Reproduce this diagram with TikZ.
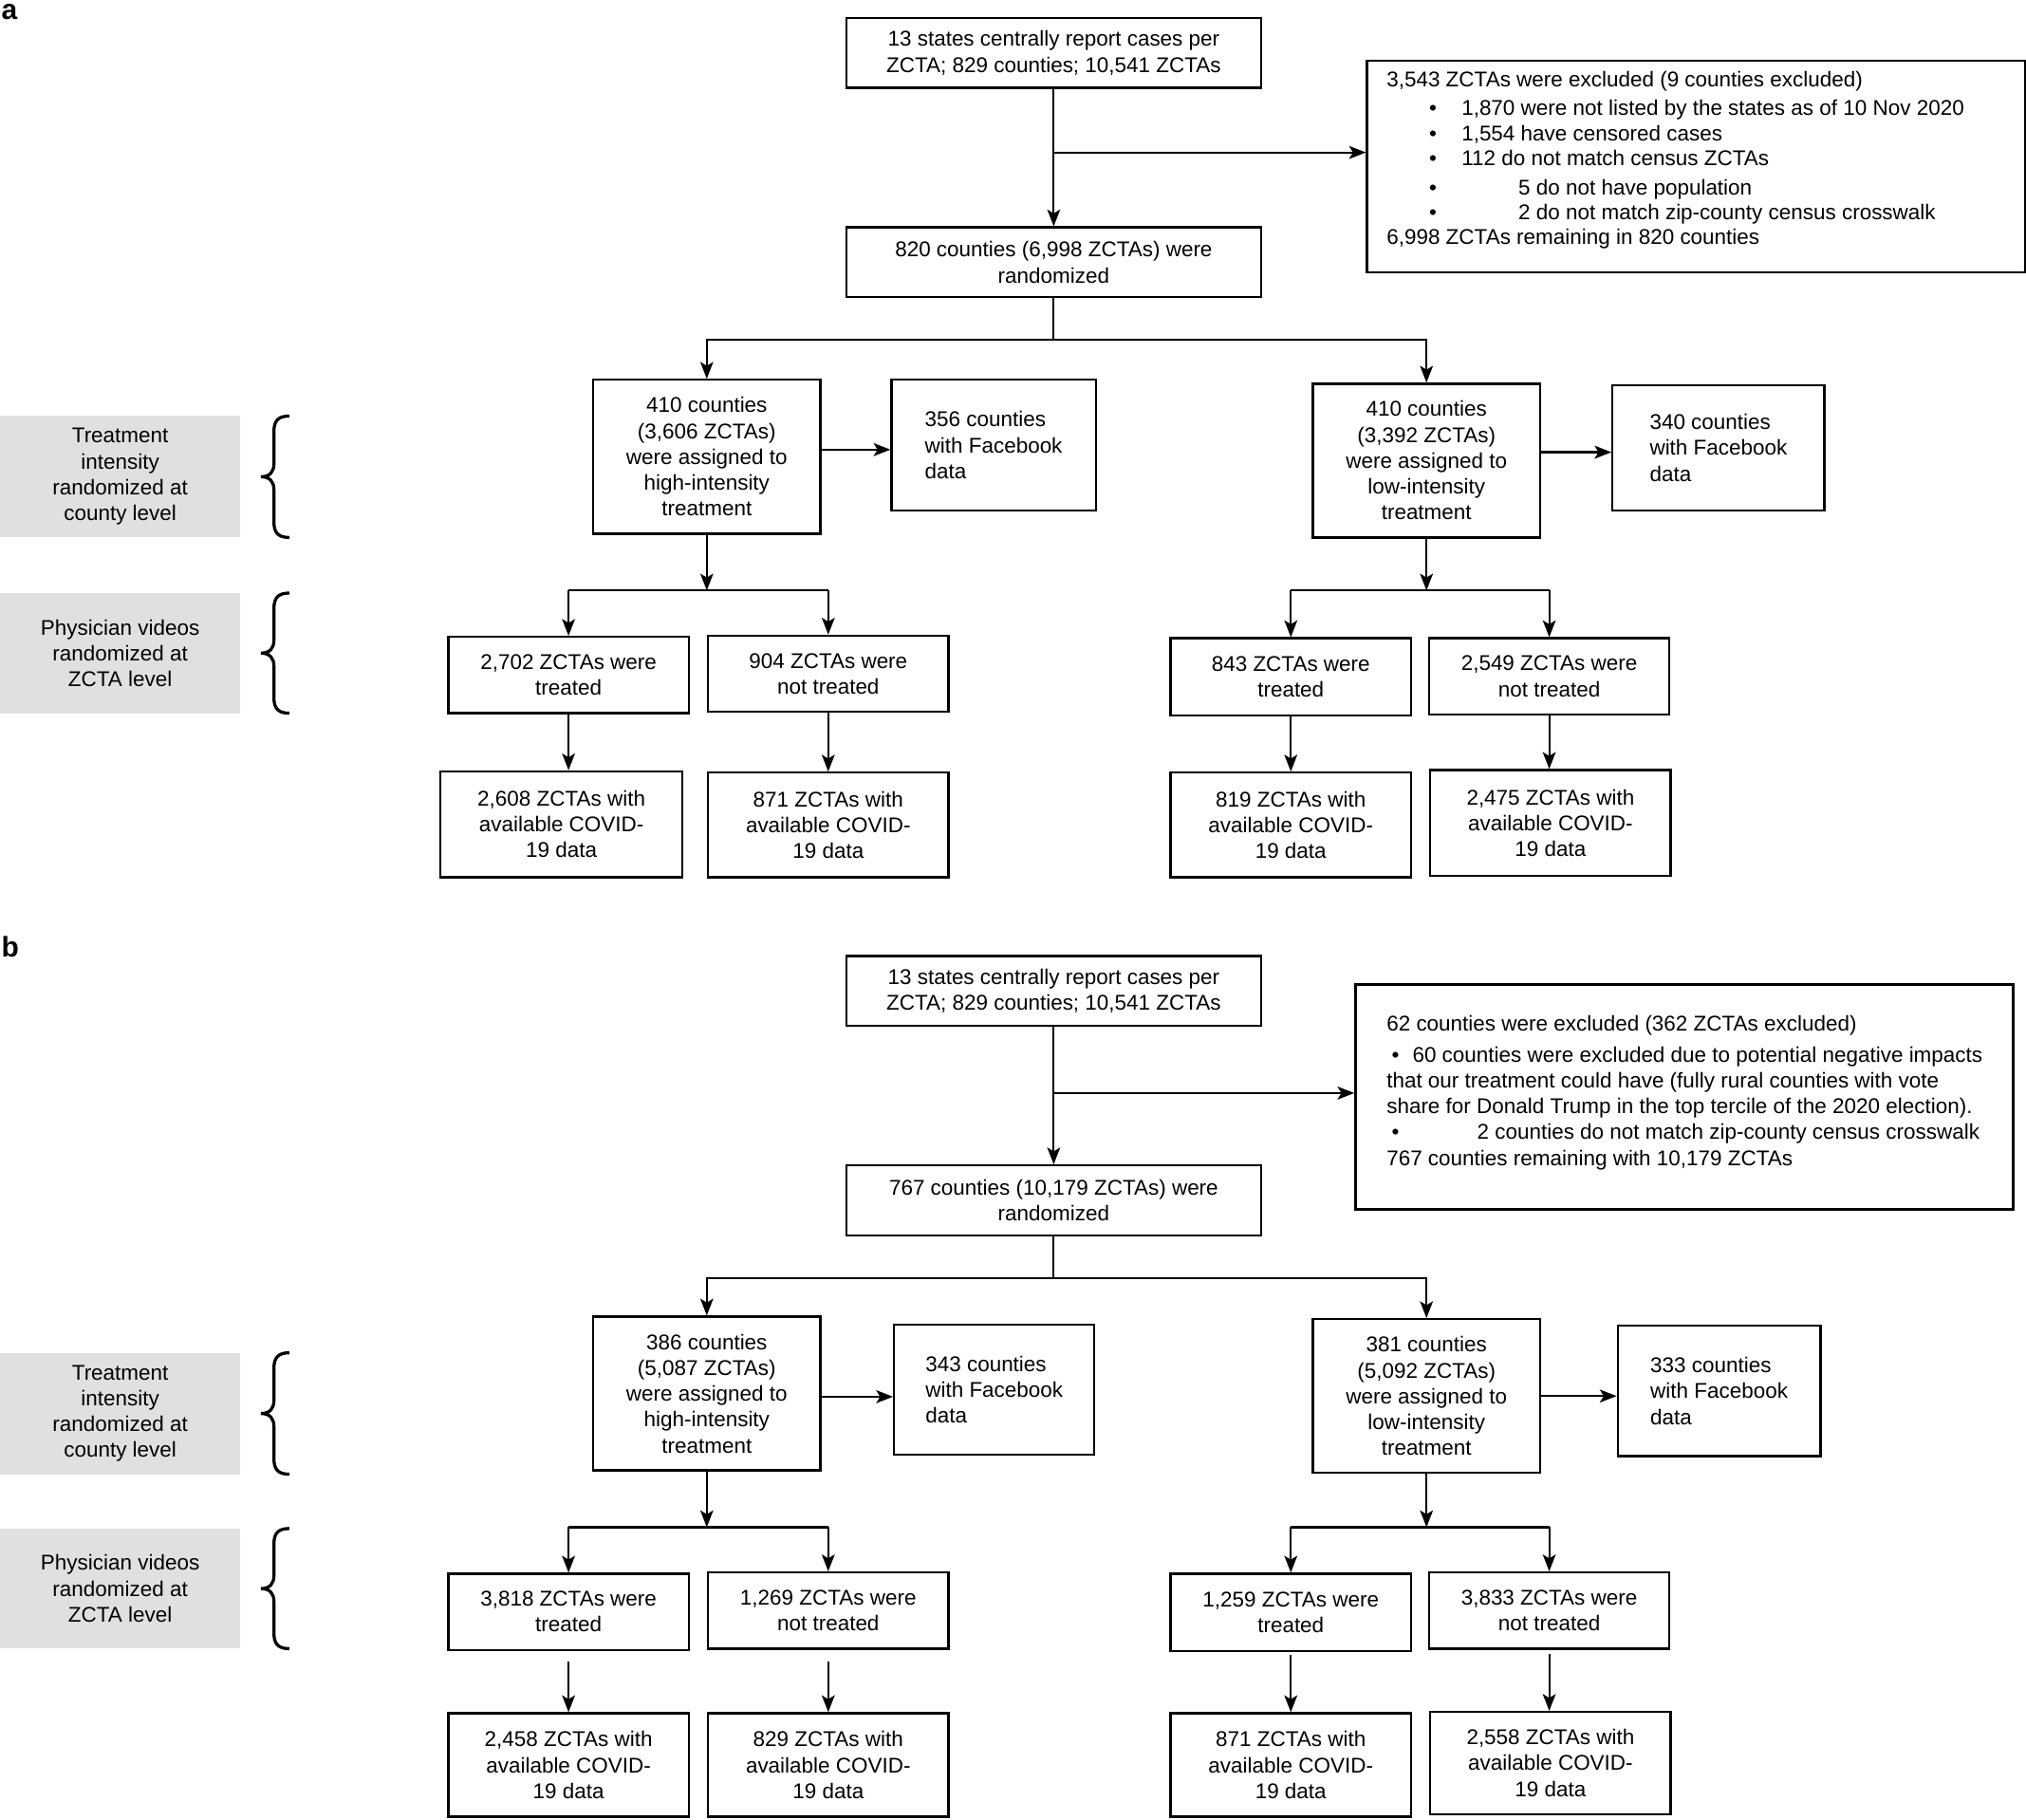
\documentclass[tikz,border=0pt]{standalone}
\usepackage{fontspec}
\setmainfont{Liberation Sans}
\usetikzlibrary{arrows.meta}
\definecolor{lgray}{RGB}{223,224,226}
\newcommand\fs{\fontsize{16.5}{20}\selectfont}
\newcommand\cbrace[2]{%
 \pgfmathsetmacro\bm{(#1+#2)/2}%
 \draw[brc] (224,#1) .. controls (216,#1) and (212,{#1+3}) .. (212,{#1+12}) -- (212,{\bm-10}) .. controls (212,{\bm-4}) and (209,\bm) .. (202,\bm) .. controls (209,\bm) and (212,{\bm+4}) .. (212,{\bm+10}) -- (212,{#2-12}) .. controls (212,{#2-3}) and (216,#2) .. (224,#2);}
\tikzset{
 box/.style={draw, line width=1.7pt, inner sep=0pt, align=center, font=\fs},
 lbl/.style={fill=lgray, inner sep=0pt, align=center, font=\fs},
 line/.style={line width=1.6pt},
 arr/.style={line width=1.6pt, -{Stealth[length=13pt,width=10pt,inset=3pt]}},
 txt/.style={inner sep=0pt, anchor=base west, font=\fs},
 brc/.style={line width=2.4pt},
 plabel/.style={inner sep=0pt, anchor=base west, font=\fontsize{22}{22}\selectfont\bfseries},
}
\begin{document}
\begin{tikzpicture}[x=1pt,y=-1pt]
\useasboundingbox (0,0) rectangle (1568,1408);
% ---------------- panel a ----------------
\node[plabel] (la) at (1,15) {a};
\node[box, minimum width=321pt, minimum height=54pt] (A1) at (815.5,41) {13 states centrally report cases per\\ZCTA; 829 counties; 10,541 ZCTAs};
\node[box, minimum width=321pt, minimum height=54pt] (A2) at (815.5,203) {820 counties (6,998 ZCTAs) were\\randomized};
\node[box, minimum width=509pt, minimum height=164pt] (exA) at (1312.5,129) {};
\node[txt] (exA1) at (1073,67) {3,543 ZCTAs were excluded (9 counties excluded)};
\node[txt] (exAb2) at (1106,89) {•};
\node[txt] (exA2) at (1131,89) {1,870 were not listed by the states as of 10 Nov 2020};
\node[txt] (exAb3) at (1106,109) {•};
\node[txt] (exA3) at (1131,109) {1,554 have censored cases};
\node[txt] (exAb4) at (1106,128) {•};
\node[txt] (exA4) at (1131,128) {112 do not match census ZCTAs};
\node[txt] (exAb5) at (1106,151) {•};
\node[txt] (exA5) at (1175,151) {5 do not have population};
\node[txt] (exAb6) at (1106,170) {•};
\node[txt] (exA6) at (1175,170) {2 do not match zip-county census crosswalk};
\node[txt] (exA7) at (1073,189) {6,998 ZCTAs remaining in 820 counties};

\node[box, minimum width=176pt, minimum height=119pt] (hiA) at (547,353.5) {410 counties\\(3,606 ZCTAs)\\were assigned to\\high-intensity\\treatment};
\node[box, minimum width=158pt, minimum height=101pt, align=left] (fbA) at (769,344.5) {356 counties\\with Facebook\\data};
\node[box, minimum width=176pt, minimum height=119pt] (loA) at (1104,356.5) {410 counties\\(3,392 ZCTAs)\\were assigned to\\low-intensity\\treatment};
\node[box, minimum width=164pt, minimum height=97pt, align=left] (fb2A) at (1330,346.5) {340 counties\\with Facebook\\data};

\node[box, minimum width=186pt, minimum height=59pt] (tA1) at (440,522.5) {2,702 ZCTAs were\\treated};
\node[box, minimum width=186pt, minimum height=59pt] (nA1) at (641,521.5) {904 ZCTAs were\\not treated};
\node[box, minimum width=186pt, minimum height=60pt] (tA2) at (999,524) {843 ZCTAs were\\treated};
\node[box, minimum width=186pt, minimum height=59pt] (nA2) at (1199,523.5) {2,549 ZCTAs were\\not treated};

\node[box, minimum width=187pt, minimum height=82pt] (bA1) at (434.5,638) {2,608 ZCTAs with\\available COVID-\\19 data};
\node[box, minimum width=186pt, minimum height=81pt] (bA2) at (641,638.5) {871 ZCTAs with\\available COVID-\\19 data};
\node[box, minimum width=186pt, minimum height=81pt] (bA3) at (999,638.5) {819 ZCTAs with\\available COVID-\\19 data};
\node[box, minimum width=186pt, minimum height=82pt] (bA4) at (1200,637) {2,475 ZCTAs with\\available COVID-\\19 data};

\node[lbl, minimum width=186pt, minimum height=94pt] (gA1) at (93,369) {Treatment\\intensity\\randomized at\\county level};
\node[lbl, minimum width=186pt, minimum height=93pt] (gA2) at (93,505.5) {Physician videos\\randomized at\\ZCTA level};
\cbrace{322}{416}
\cbrace{459}{552}

\coordinate (jA) at (815.5,118);
\coordinate (brA) at (815.5,263);
\draw[arr] (A1.south) -- (A2.north);
\draw[arr] (jA) -- (jA -| exA.west);
\draw[line] (A2.south) -- (brA);
\draw[arr] (brA) -| (hiA.north);
\draw[arr] (brA) -| (loA.north);
\coordinate (hA) at ([yshift=5.5pt]hiA.east);
\draw[arr] (hA) -- (hA -| fbA.west);
\coordinate (lA) at ([yshift=6.5pt]loA.east);
\draw[arr] (lA) -- (lA -| fb2A.west);
\coordinate (brA1) at (547,457);
\coordinate (brA2) at (1104,457);
\draw[arr] (hiA.south) -- (brA1);
\draw[arr] (loA.south) -- (brA2);
\draw[line] (tA1.north |- brA1) -- (nA1.north |- brA1);
\draw[line] (tA2.north |- brA2) -- (nA2.north |- brA2);
\draw[arr] (tA1.north |- brA1) -- (tA1.north);
\draw[arr] (nA1.north |- brA1) -- (nA1.north);
\draw[arr] (tA2.north |- brA2) -- (tA2.north);
\draw[arr] (nA2.north |- brA2) -- (nA2.north);
\draw[arr] (tA1.south) -- (tA1.south |- bA1.north);
\draw[arr] (nA1.south) -- (nA1.south |- bA2.north);
\draw[arr] (tA2.south) -- (tA2.south |- bA3.north);
\draw[arr] (nA2.south) -- (nA2.south |- bA4.north);

% ---------------- panel b ----------------
\node[plabel] (lb) at (1,741) {b};
\node[box, minimum width=321pt, minimum height=54pt] (B1) at (815.5,767) {13 states centrally report cases per\\ZCTA; 829 counties; 10,541 ZCTAs};
\node[box, minimum width=321pt, minimum height=54pt] (B2) at (815.5,929) {767 counties (10,179 ZCTAs) were\\randomized};
\node[box, minimum width=509pt, minimum height=174pt] (exB) at (1303.5,849) {};
\node[txt] (exB1) at (1073,798) {62 counties were excluded (362 ZCTAs excluded)};
\node[txt] (exBb2) at (1077,822) {•};
\node[txt] (exB2) at (1093,822) {60 counties were excluded due to potential negative impacts};
\node[txt] (exB3) at (1073,842) {that our treatment could have (fully rural counties with vote};
\node[txt] (exB4) at (1073,862) {share for Donald Trump in the top tercile of the 2020 election).};
\node[txt] (exBb5) at (1077,882) {•};
\node[txt] (exB5) at (1143,882) {2 counties do not match zip-county census crosswalk};
\node[txt] (exB6) at (1073,902) {767 counties remaining with 10,179 ZCTAs};

\node[box, minimum width=176pt, minimum height=119pt] (hiB) at (547,1078.5) {386 counties\\(5,087 ZCTAs)\\were assigned to\\high-intensity\\treatment};
\node[box, minimum width=155pt, minimum height=101pt, align=left] (fbB) at (769.5,1075.5) {343 counties\\with Facebook\\data};
\node[box, minimum width=176pt, minimum height=119pt] (loB) at (1104,1080.5) {381 counties\\(5,092 ZCTAs)\\were assigned to\\low-intensity\\treatment};
\node[box, minimum width=157pt, minimum height=101pt, align=left] (fb2B) at (1330.5,1076.5) {333 counties\\with Facebook\\data};

\node[box, minimum width=186pt, minimum height=59pt] (tB1) at (440,1247.5) {3,818 ZCTAs were\\treated};
\node[box, minimum width=186pt, minimum height=59pt] (nB1) at (641,1246.5) {1,269 ZCTAs were\\not treated};
\node[box, minimum width=186pt, minimum height=60pt] (tB2) at (999,1248) {1,259 ZCTAs were\\treated};
\node[box, minimum width=186pt, minimum height=59pt] (nB2) at (1199,1246.5) {3,833 ZCTAs were\\not treated};

\node[box, minimum width=186pt, minimum height=80pt] (bB1) at (440,1366) {2,458 ZCTAs with\\available COVID-\\19 data};
\node[box, minimum width=186pt, minimum height=80pt] (bB2) at (641,1366) {829 ZCTAs with\\available COVID-\\19 data};
\node[box, minimum width=186pt, minimum height=80pt] (bB3) at (999,1366) {871 ZCTAs with\\available COVID-\\19 data};
\node[box, minimum width=186pt, minimum height=79pt] (bB4) at (1200,1364.5) {2,558 ZCTAs with\\available COVID-\\19 data};

\node[lbl, minimum width=186pt, minimum height=94pt] (gB1) at (93,1094) {Treatment\\intensity\\randomized at\\county level};
\node[lbl, minimum width=186pt, minimum height=93pt] (gB2) at (93,1229.5) {Physician videos\\randomized at\\ZCTA level};
\cbrace{1047}{1141}
\cbrace{1183}{1276}

\coordinate (jB) at (815.5,846);
\coordinate (brB) at (815.5,989);
\draw[arr] (B1.south) -- (B2.north);
\draw[arr] (jB) -- (jB -| exB.west);
\draw[line] (B2.south) -- (brB);
\draw[arr] (brB) -| (hiB.north);
\draw[arr] (brB) -| (loB.north);
\coordinate (hB) at ([yshift=-2.5pt]hiB.east);
\draw[arr] (hB) -- (hB -| fbB.west);
\coordinate (lB) at (loB.east);
\draw[arr] (lB) -- (lB -| fb2B.west);
\coordinate (brB1) at (547,1182);
\coordinate (brB2) at (1104,1182);
\draw[arr] (hiB.south) -- (brB1);
\draw[arr] (loB.south) -- (brB2);
\draw[line] (tB1.north |- brB1) -- (nB1.north |- brB1);
\draw[line] (tB2.north |- brB2) -- (nB2.north |- brB2);
\draw[arr] (tB1.north |- brB1) -- (tB1.north);
\draw[arr] (nB1.north |- brB1) -- (nB1.north);
\draw[arr] (tB2.north |- brB2) -- (tB2.north);
\draw[arr] (nB2.north |- brB2) -- (nB2.north);
\coordinate (sB1) at ([yshift=-8pt]tB1.south);
\coordinate (sB2) at ([yshift=-9pt]nB1.south);
\coordinate (sB3) at ([yshift=-2pt]tB2.south);
\coordinate (sB4) at ([yshift=-3pt]nB2.south);
\draw[arr] (sB1) -- (sB1 |- bB1.north);
\draw[arr] (sB2) -- (sB2 |- bB2.north);
\draw[arr] (sB3) -- (sB3 |- bB3.north);
\draw[arr] (sB4) -- (sB4 |- bB4.north);
\end{tikzpicture}
\end{document}
